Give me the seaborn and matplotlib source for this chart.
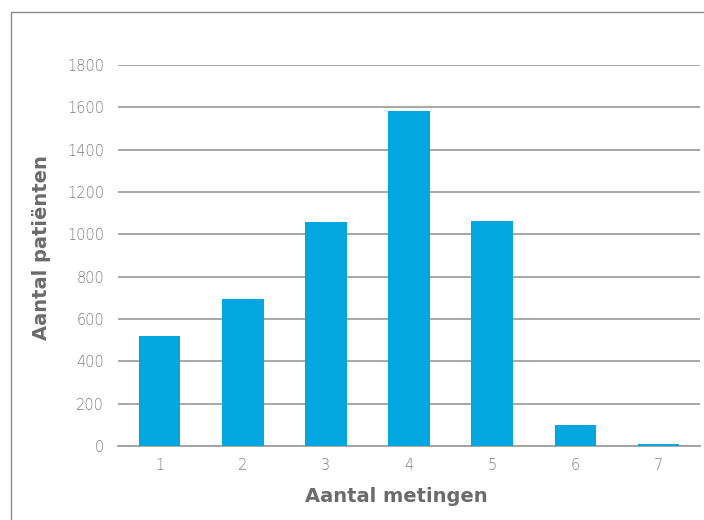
import numpy as np
import pandas as pd
import matplotlib
matplotlib.use('Agg')
import matplotlib.pyplot as plt
import seaborn as sns
from matplotlib.patches import Rectangle

# data
metingen = ['1', '2', '3', '4', '5', '6', '7']
patienten = [520, 694, 1058, 1582, 1063, 99, 10]
y_ticks = [0, 200, 400, 600, 800, 1000, 1200, 1400, 1600, 1800]

sns.set_style('white')
plt.rcParams['font.family'] = ['DejaVu Sans']

df = pd.DataFrame({'Aantal metingen': metingen, 'Aantal patiënten': patienten})

fig = plt.figure(figsize=(7.04, 5.2), dpi=100)
ax = fig.add_axes([118 / 704, 1 - 446 / 520, (700 - 118) / 704, (446 - 65) / 520])

sns.barplot(data=df, x='Aantal metingen', y='Aantal patiënten', color='#02A7E0',
            saturation=1, width=0.5, ax=ax, linewidth=0)
for bar in ax.patches:
    bar.set_zorder(4)

ax.set_ylim(0, 1800)
ax.set_xlim(-0.5, 6.5)
ax.set_yticks(y_ticks)
ax.set_yticklabels([str(t) for t in y_ticks])
ax.yaxis.grid(True, color='#a0a0a0', linewidth=1.3, zorder=0)
ax.set_axisbelow(True)
for side in ['top', 'right', 'left']:
    ax.spines[side].set_visible(False)
ax.spines['bottom'].set_color('#a0a0a0')
ax.spines['bottom'].set_linewidth(1.3)
ax.spines['bottom'].set_zorder(3)
ax.tick_params(axis='y', length=0, labelsize=10.5, labelcolor='#7f7f7f', pad=10)
ax.tick_params(axis='x', length=0, labelsize=10.5, labelcolor='#7f7f7f', pad=9)
for lbl in ax.get_xticklabels() + ax.get_yticklabels():
    lbl.set_fontweight('light')

ax.set_xlabel('Aantal metingen', fontsize=14, fontweight='bold', color='#6b6b6b')
ax.set_ylabel('Aantal patiënten', fontsize=14, fontweight='bold', color='#6b6b6b')
ax.xaxis.set_label_coords(0.478, -0.108)
ax.yaxis.set_label_coords(-0.115, 0.52)

# light frame around the chart area
fig.patches.append(Rectangle((11 / 704, -0.05), 1.2, 1 - 12 / 520 + 0.05,
                             transform=fig.transFigure, fill=False,
                             edgecolor='#8a8a8a', linewidth=1.0))

fig.savefig('out.png', dpi=100)
